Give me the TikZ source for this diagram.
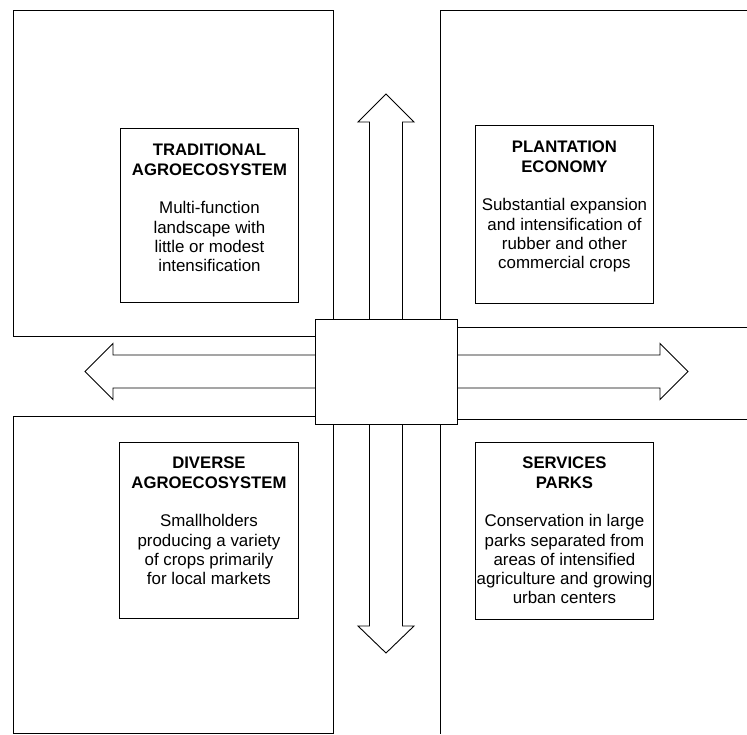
\documentclass[tikz,border=0pt]{standalone}
\usepackage{fontspec}
\setmainfont{Liberation Sans}
\newcommand\ttlline[1]{{\fontsize{16.7}{19.3}\selectfont\bfseries #1}}
\begin{document}
\begin{tikzpicture}[x=1pt,y=-1pt,
  frame/.style={draw, line width=0.9pt},
  infobox/.style={draw, line width=0.9pt, inner sep=0pt, anchor=north west,
                  minimum width=178pt, minimum height=175pt},
  infotext/.style={align=center, anchor=north, inner sep=0pt,
                  font=\fontsize{16.9}{19.3}\selectfont},
  bigarrow/.style={draw, line width=0.9pt, fill=white, line join=miter},
  hubbox/.style={draw, line width=0.9pt, fill=white, inner sep=0pt,
                  minimum width=142pt, minimum height=105pt}]
\useasboundingbox (0,0) rectangle (747,734);

% quadrant frames
\draw[frame] (13,10) rectangle (333,336);
\draw[frame] (747,10) -- (440,10) -- (440,327) -- (747,327);
\draw[frame] (13,416) rectangle (333,733);
\draw[frame] (747,419) -- (440,419) -- (440,734);

% central hub position
\coordinate (c) at (386,371.5);

% arrows
\draw[bigarrow] (369.5,330) -- (369.5,122) -- (358,122) -- (386,94) -- (414,122) -- (402.5,122) -- (402.5,330) -- cycle;
\draw[bigarrow] (369.5,410) -- (369.5,626) -- (358,626) -- (386,653) -- (414,626) -- (402.5,626) -- (402.5,410) -- cycle;
\draw[bigarrow] (330,355) -- (113,355) -- (113,343.5) -- (85,371.5) -- (113,399.5) -- (113,388) -- (330,388) -- cycle;
\draw[bigarrow] (440,355) -- (660,355) -- (660,343.5) -- (688,371.5) -- (660,399.5) -- (660,388) -- (440,388) -- cycle;

% central box
\node[hubbox] (hub) at (c) {};

% info boxes
\node[infobox, minimum height=174pt] (tlbox) at (120,128) {};
\node[infotext] (tltext) at ([yshift=-16pt]tlbox.north)
  {\ttlline{TRADITIONAL}\\\ttlline{AGROECOSYSTEM}\\[19.3pt]Multi-function\\landscape with\\little or modest\\intensification};

\node[infobox, minimum height=178pt] (trbox) at (475,125) {};
\node[infotext] (trtext) at ([yshift=-16pt]trbox.north)
  {\ttlline{PLANTATION}\\\ttlline{ECONOMY}\\[19.3pt]Substantial expansion\\and intensification of\\rubber and other\\commercial crops};

\node[infobox, minimum width=179pt, minimum height=176pt] (blbox) at (119,442) {};
\node[infotext] (bltext) at ([yshift=-15pt]blbox.north)
  {\ttlline{DIVERSE}\\\ttlline{AGROECOSYSTEM}\\[19.3pt]Smallholders\\producing a variety\\of crops primarily\\for local markets};

\node[infobox, minimum height=177pt] (brbox) at (475,442) {};
\node[infotext] (brtext) at ([yshift=-15pt]brbox.north)
  {\ttlline{SERVICES}\\\ttlline{PARKS}\\[19.3pt]Conservation in large\\parks separated from\\areas of intensified\\agriculture and growing\\urban centers};
\end{tikzpicture}
\end{document}
